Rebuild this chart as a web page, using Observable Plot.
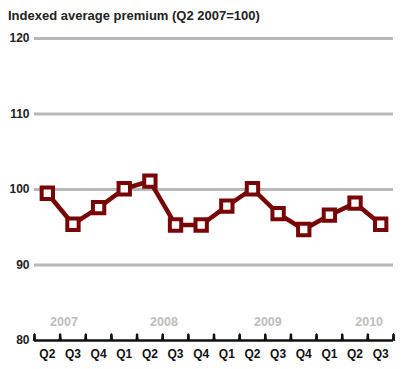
<!DOCTYPE html>
<html>
<head>
<meta charset="utf-8">
<script src="https://cdn.jsdelivr.net/npm/d3@7"></script>
<script src="https://cdn.jsdelivr.net/npm/@observablehq/plot@0.6"></script>
<style>
  body { margin: 0; background: #fff; font-family: "Liberation Sans", Arial, sans-serif; }
  #title { box-sizing: border-box; height: 28px; padding: 9px 0 0 8px; font-size: 13px; line-height: 13px; font-weight: bold; color: #222; }
</style>
</head>
<body>
<div id="title">Indexed average premium (Q2 2007=100)</div>
<div id="chart"></div>
<script>
const quarters = ["Q2","Q3","Q4","Q1","Q2","Q3","Q4","Q1","Q2","Q3","Q4","Q1","Q2","Q3"];
const values = [99.5, 95.4, 97.6, 100.1, 101.1, 95.3, 95.3, 97.8, 100.1, 96.8, 94.7, 96.6, 98.2, 95.4];
const years = ["2007", "2008", "2009", "2010"];
const yearPos = [0.65, 4.55, 8.6, 12.55];
const yTicks = [80, 90, 100, 110, 120];

const data = quarters.map((q, i) => ({i, q, v: values[i]}));
const yearData = years.map((y, k) => ({y, p: yearPos[k]}));
const boundaries = [];
for (let k = 0; k <= quarters.length; k++) boundaries.push({b: k - 0.5, lo: 80, hi: 80.85});
const dark = "#780606";

const chart = Plot.plot({
  width: 404,
  height: 341,
  marginLeft: 34,
  marginRight: 11,
  marginTop: 10,
  marginBottom: 29,
  style: {fontFamily: "Liberation Sans, Arial, sans-serif", background: "#fff"},
  x: {domain: [-0.5, quarters.length - 0.5], axis: null},
  y: {domain: [80, 120], axis: null},
  marks: [
    Plot.ruleY(yTicks.filter(t => t > 80), {stroke: "#b8b8b8", strokeWidth: 3}),
    Plot.ruleY([80], {stroke: "#111", strokeWidth: 2.5}),
    Plot.link(boundaries, {x1: "b", x2: "b", y1: "lo", y2: "hi", stroke: "#111", strokeWidth: 2.5}),
    Plot.vector(boundaries, {x: "b", y: "lo", length: 7, rotate: 0, anchor: "start", shape: "spike", r: 1.2, stroke: "#111", fill: "#111", strokeWidth: 1}),
    Plot.axisY({ticks: yTicks, tickSize: 0, tickPadding: 5, label: null, fontSize: 12, fontWeight: "bold", fill: "#222"}),
    Plot.text(data, {x: "i", y: () => 80, text: "q", lineAnchor: "top", dy: 8.5, fontSize: 12, fontWeight: "bold", fill: "#111"}),
    Plot.text(yearData, {x: "p", y: () => 80, text: "y", lineAnchor: "top", dy: -23.5, fontSize: 12.5, fontWeight: "bold", fill: "#bdbdbd"}),
    Plot.line(data, {x: "i", y: "v", stroke: dark, strokeWidth: 4.5}),
    Plot.dot(data, {x: "i", y: "v", symbol: "square", r: 6.4, fill: "white", stroke: dark, strokeWidth: 4})
  ]
});
document.getElementById("chart").appendChild(chart);
</script>
</body>
</html>
